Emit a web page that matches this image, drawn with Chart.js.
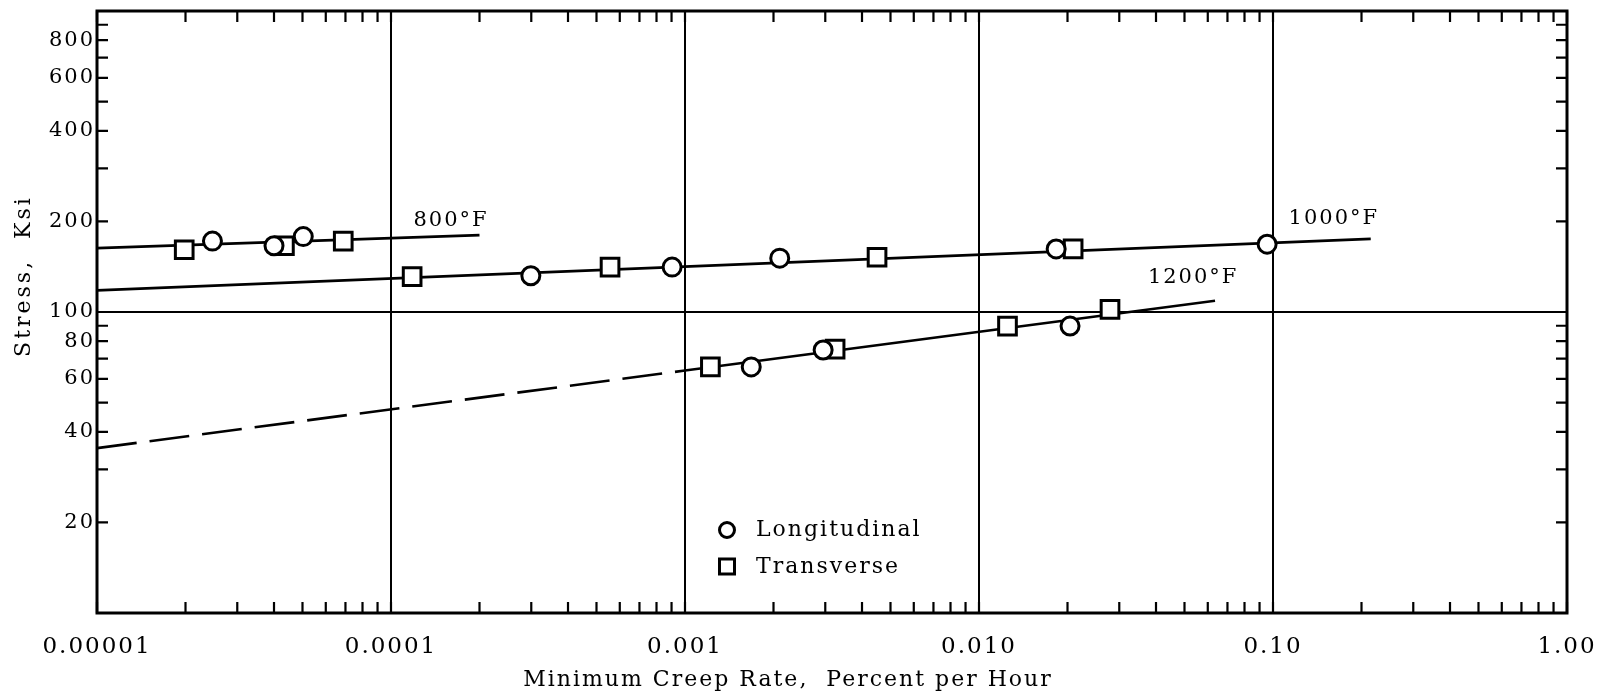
<!DOCTYPE html>
<html>
<head>
<meta charset="utf-8">
<script src="https://cdn.jsdelivr.net/npm/chart.js@4.4.1/dist/chart.umd.min.js"></script>
<style>
  html, body { margin: 0; padding: 0; background: #fff; }
  #wrap { width: 1607px; height: 696px; }
</style>
</head>
<body>
<div id="wrap"><canvas id="creepChart" width="1607" height="696"></canvas></div>
<script>
// Minimum creep rate (% per hour) vs stress (ksi)
const longRate   = [2.47e-5, 4.0e-5, 5.03e-5, 2.99e-4, 9.04e-4, 2.1e-3, 1.83e-2, 0.0955, 1.68e-3, 2.95e-3, 2.04e-2];
const longStress = [172, 166, 178, 132, 141, 151, 162, 168, 65.7, 74.8, 89.8];
const tranRate   = [1.98e-5, 4.34e-5, 6.88e-5, 1.18e-4, 5.56e-4, 4.5e-3, 2.09e-2, 1.22e-3, 3.24e-3, 1.25e-2, 2.79e-2];
const tranStress = [161, 166, 172, 131, 141, 152, 162, 65.7, 75.3, 89.8, 102];

// faired lines for each temperature
const fit800Rate = [1e-5, 2e-4];
const fit800Stress = [163, 180];
const fit1000Rate = [1e-5, 0.215];
const fit1000Stress = [118, 175];
const fit1200Rate = [1e-5, 1e-3, 0.0635];
const fit1200Stress = [35.3, 63.9, 109];

const tempLabels = ['800°F', '1000°F', '1200°F'];
const tempLabelRate = [1.6e-4, 0.161, 0.0535];
const tempLabelStress = [202, 204, 130];

const xMajor = [1e-5, 1e-4, 1e-3, 1e-2, 1e-1, 1];
const xTickLabels = ['0.00001', '0.0001', '0.001', '0.010', '0.10', '1.00'];
const yMajor = [20, 40, 60, 80, 100, 200, 400, 600, 800];
const yTickLabels = ['20', '40', '60', '80', '100', '200', '400', '600', '800'];
const xGridAt = [1e-4, 1e-3, 1e-2, 1e-1];
const yGridAt = [100];

const same = (a, b) => Math.abs(a / b - 1) < 1e-6;
const labelFor = (v, vals, labels) => {
    const i = vals.findIndex(m => same(v, m));
    return i >= 0 ? labels[i] : '';
};

// minor ticks 1..9 in every decade
function decadeTicks(lo, hi) {
    const out = [];
    for (let d = lo; d < hi * 0.999; d *= 10) {
        for (let k = 1; k < 10; k++) out.push(k * d);
    }
    out.push(hi);
    return out;
}
const xTickValues = decadeTicks(1e-5, 1);
const yTickValues = decadeTicks(10, 1000);

const pts = (xs, ys) => xs.map((v, i) => ({ x: v, y: ys[i] }));
const FONT = '"DejaVu Serif", serif';

const decorations = {
    id: 'decorations',
    beforeDraw(chart) {
        chart.ctx.letterSpacing = '2px';
    },
    afterDraw(chart) {
        const { ctx, chartArea: a, scales: { x, y } } = chart;
        ctx.save();
        ctx.strokeStyle = '#000';
        ctx.fillStyle = '#000';

        // inward tick marks on all four sides
        ctx.lineWidth = 2.2;
        ctx.beginPath();
        xTickValues.forEach(v => {
            const px = x.getPixelForValue(v);
            ctx.moveTo(px, a.bottom); ctx.lineTo(px, a.bottom - 11);
            ctx.moveTo(px, a.top); ctx.lineTo(px, a.top + 11);
        });
        yTickValues.forEach(v => {
            const py = y.getPixelForValue(v);
            ctx.moveTo(a.left, py); ctx.lineTo(a.left + 11, py);
            ctx.moveTo(a.right, py); ctx.lineTo(a.right - 11, py);
        });
        ctx.stroke();

        // frame
        ctx.lineWidth = 3;
        ctx.strokeRect(a.left, a.top, a.right - a.left, a.bottom - a.top);

        // temperature labels
        ctx.font = '21px ' + FONT;
        ctx.textAlign = 'center';
        ctx.textBaseline = 'middle';
        tempLabels.forEach((t, i) => {
            ctx.fillText(t, x.getPixelForValue(tempLabelRate[i]), y.getPixelForValue(tempLabelStress[i]));
        });

        // legend
        const lx = a.left + 630, ly = a.top + 519;
        ctx.lineWidth = 3;
        ctx.beginPath();
        ctx.arc(lx, ly, 7.5, 0, Math.PI * 2);
        ctx.stroke();
        ctx.strokeRect(lx - 7.5, ly + 29, 15, 15);
        ctx.font = '22px ' + FONT;
        ctx.textAlign = 'left';
        ctx.fillText('Longitudinal', lx + 29, ly);
        ctx.fillText('Transverse', lx + 29, ly + 37);

        // axis titles
        ctx.textAlign = 'center';
        ctx.textBaseline = 'alphabetic';
        ctx.fillText('Minimum Creep Rate,  Percent per Hour', 788, 686);
        ctx.save();
        ctx.translate(30, 276);
        ctx.rotate(-Math.PI / 2);
        ctx.letterSpacing = '3px';
        ctx.fillText('Stress,  Ksi', 0, 0);
        ctx.restore();

        ctx.restore();
    }
};

new Chart(document.getElementById('creepChart'), {
    type: 'scatter',
    data: {
        datasets: [
            {
                label: 'Longitudinal',
                data: pts(longRate, longStress),
                pointStyle: 'circle',
                pointRadius: 9,
                borderWidth: 3,
                borderColor: '#000',
                backgroundColor: '#fff',
                order: 1
            },
            {
                label: 'Transverse',
                data: pts(tranRate, tranStress),
                pointStyle: 'rect',
                pointRadius: 12.5,
                borderWidth: 3,
                borderColor: '#000',
                backgroundColor: '#fff',
                order: 2
            },
            {
                label: '800°F',
                type: 'line',
                data: pts(fit800Rate, fit800Stress),
                borderColor: '#000',
                borderWidth: 2.6,
                pointRadius: 0,
                order: 3
            },
            {
                label: '1000°F',
                type: 'line',
                data: pts(fit1000Rate, fit1000Stress),
                borderColor: '#000',
                borderWidth: 2.6,
                pointRadius: 0,
                order: 3
            },
            {
                label: '1200°F',
                type: 'line',
                data: pts(fit1200Rate, fit1200Stress),
                borderColor: '#000',
                borderWidth: 2.6,
                pointRadius: 0,
                segment: { borderDash: c => c.p0DataIndex === 0 ? [40, 13] : undefined },
                order: 3
            }
        ]
    },
    options: {
        responsive: false,
        animation: false,
        events: [],
        layout: { autoPadding: false, padding: { top: 11, right: 40, left: 0, bottom: 0 } },
        plugins: { legend: { display: false }, tooltip: { enabled: false } },
        scales: {
            x: {
                type: 'logarithmic',
                min: 1e-5,
                max: 1,
                afterBuildTicks: s => { s.ticks = xTickValues.map(v => ({ value: v })); },
                afterFit: s => { s.height = 83; s.paddingLeft = 0; s.paddingRight = 0; },
                ticks: {
                    autoSkip: false,
                    maxRotation: 0,
                    minRotation: 0,
                    padding: 20,
                    color: '#000',
                    font: { family: FONT, size: 23 },
                    callback: v => labelFor(v, xMajor, xTickLabels)
                },
                grid: {
                    drawTicks: false,
                    lineWidth: 2,
                    color: c => (c.tick && xGridAt.some(g => same(c.tick.value, g))) ? '#000' : 'rgba(0,0,0,0)'
                },
                border: { display: false }
            },
            y: {
                type: 'logarithmic',
                min: 10,
                max: 1000,
                afterBuildTicks: s => { s.ticks = yTickValues.map(v => ({ value: v })); },
                afterFit: s => { s.width = 97; s.paddingTop = 0; s.paddingBottom = 0; },
                ticks: {
                    autoSkip: false,
                    padding: 2,
                    color: '#000',
                    font: { family: FONT, size: 21, lineHeight: 0.5 },
                    callback: v => labelFor(v, yMajor, yTickLabels)
                },
                grid: {
                    drawTicks: false,
                    lineWidth: 2,
                    color: c => (c.tick && yGridAt.some(g => same(c.tick.value, g))) ? '#000' : 'rgba(0,0,0,0)'
                },
                border: { display: false }
            }
        }
    },
    plugins: [decorations]
});
</script>
</body>
</html>
